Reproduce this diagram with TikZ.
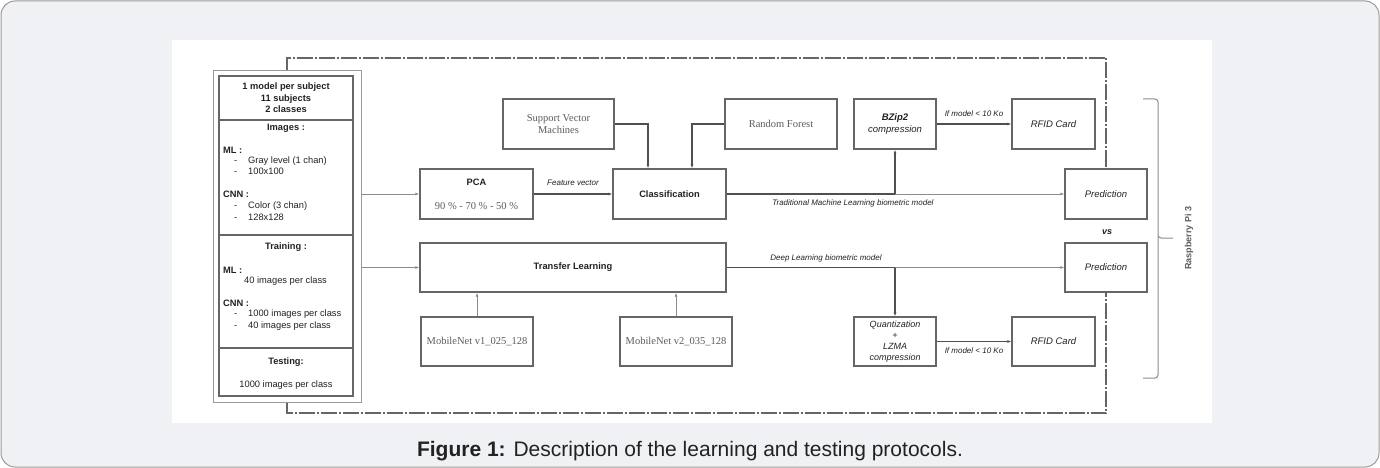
\documentclass[tikz,border=0pt]{standalone}
\usepackage{fontspec}
\setmainfont{Liberation Sans}
\newfontfamily\bookfont{Liberation Serif}
\usetikzlibrary{positioning, arrows.meta}

\definecolor{pagegray}{HTML}{F0F1F4}
\definecolor{edgegray}{HTML}{9A9A9A}
\definecolor{boxgray}{HTML}{666666}
\definecolor{wiregray}{HTML}{505050}
\definecolor{inkgray}{HTML}{222222}
\definecolor{softgray}{HTML}{5C5C5C}

\newcommand{\bul}[1]{\makebox[14pt][l]{-}#1}

\tikzset{
  blk/.style={draw=boxgray, line width=1.3pt, fill=white, minimum height=50pt, inner sep=1pt, align=center, text=inkgray, font=\fontsize{9.3}{11}\selectfont},
  bookblk/.style={blk, text=softgray, font=\bookfont\fontsize{10.5}{12.5}\selectfont},
  itblk/.style={blk, font=\itshape\fontsize{9.5}{11.5}\selectfont},
  spectxt/.style={inner sep=0pt, text=inkgray, font=\fontsize{9.3}{11.5}\selectfont},
  spechead/.style={spectxt, font=\bfseries\fontsize{9.3}{11.5}\selectfont},
  wire/.style={draw=wiregray, line width=1.5pt},
  thinwire/.style={draw=black!45, line width=0.9pt},
  lbl/.style={inner sep=1pt, text=inkgray, font=\itshape\fontsize{8}{9}\selectfont},
  dashframe/.style={draw=black!60, line width=1.6pt, dash pattern=on 16pt off 2pt on 2pt off 2pt},
  >={Latex[length=4pt, width=3pt]}
}

\begin{document}
\begin{tikzpicture}[x=1pt, y=-1pt]
  \useasboundingbox (0,0) rectangle (1380,468);
  % Page and figure area
  \draw[fill=pagegray, draw=edgegray, line width=1pt, rounded corners=14pt] (1,1) rectangle (1379,467);
  \fill[white] (172,40) rectangle (1212,423);

  % Left column: protocol
  \node[draw=black!40, line width=1pt, fill=white, minimum width=148pt, minimum height=331pt] (specout) at (287,236.5) {};
  \node[draw=boxgray, line width=1.3pt, minimum width=134pt, minimum height=320pt] (spec) at (286,236) {};
  \draw[boxgray, line width=1.3pt] (spec.west |- 0,120) -- (spec.east |- 0,120);
  \draw[boxgray, line width=1.3pt] (spec.west |- 0,235) -- (spec.east |- 0,235);
  \draw[boxgray, line width=1.3pt] (spec.west |- 0,348) -- (spec.east |- 0,348);

  \node[spechead, align=center] (head) at (286,98) {1 model per subject\\11 subjects\\2 classes};
  \node[spechead] (imgT) at (286,128) {Images :};
  \node[spechead, anchor=west] (imgML) at (223,150) {ML :};
  \node[spectxt, anchor=west] (imgM1) at (234,161) {\bul{Gray level (1 chan)}};
  \node[spectxt, anchor=west] (imgM2) at (234,171) {\bul{100x100}};
  \node[spechead, anchor=west] (imgCNN) at (223,194) {CNN :};
  \node[spectxt, anchor=west] (imgC1) at (234,206) {\bul{Color (3 chan)}};
  \node[spectxt, anchor=west] (imgC2) at (234,217) {\bul{128x128}};
  \node[spechead] (trnT) at (286,247) {Training :};
  \node[spechead, anchor=west] (trnML) at (223,270) {ML :};
  \node[spectxt, anchor=west] (trnM1) at (244,281) {40 images per class};
  \node[spechead, anchor=west] (trnCNN) at (223,303) {CNN :};
  \node[spectxt, anchor=west] (trnC1) at (234,314) {\bul{1000 images per class}};
  \node[spectxt, anchor=west] (trnC2) at (234,326) {\bul{40 images per class}};
  \node[spechead] (tstT) at (286,362) {Testing:};
  \node[spectxt] (tstA) at (286,385) {1000 images per class};

  % Blocks
  \node[blk, minimum width=113pt] (pca) at (476.5,194) {\textbf{PCA}\\[13pt]{\bookfont\color{softgray}\fontsize{10.5}{12}\selectfont 90 \% - 70 \% - 50 \%}};
  \node[blk, minimum width=113pt] (clf) at (669.5,194) {\textbf{Classification}};
  \node[bookblk, minimum width=111pt] (svm) at (558.5,124) {Support Vector\\Machines};
  \node[bookblk, minimum width=112pt] (rf) at (781,124) {Random Forest};
  \node[itblk, minimum width=82pt] (bzip) at (895,124) {\textbf{BZip2}\\compression};
  \node[itblk, minimum width=83pt] (rfidA) at (1053.5,124) {RFID Card};
  \node[itblk, minimum width=82pt] (predA) at (1106,194) {Prediction};
  \node[itblk, minimum width=82pt, minimum height=49pt] (predB) at (1106,267.5) {Prediction};
  \node[blk, minimum width=306pt, minimum height=49pt] (tl) at (573,267.5) {\textbf{Transfer Learning}};
  \node[bookblk, minimum width=112pt, minimum height=49pt] (mnA) at (477,341.5) {MobileNet v1\_025\_128};
  \node[bookblk, minimum width=112pt, minimum height=49pt] (mnB) at (676,341.5) {MobileNet v2\_035\_128};
  \node[itblk, minimum width=82pt, minimum height=49pt, font=\itshape\fontsize{9}{10.8}\selectfont] (quant) at (895,341.5) {Quantization\\+\\LZMA\\compression};
  \node[itblk, minimum width=83pt, minimum height=49pt] (rfidB) at (1053.5,341.5) {RFID Card};
  \node[text=inkgray, font=\bfseries\itshape\fontsize{9}{10}\selectfont] (vs) at (1107,232) {vs};

  % Dash-dot frame
  \draw[dashframe] (specout.north) -- (287,58) -| (predA.north);
  \draw[dashframe] (specout.south) -- (287,413) -| (predB.south);

  % Connections
  \draw[thinwire, ->] (pca.west -| specout.east) -- (pca.west);
  \draw[thinwire, ->] (tl.west -| specout.east) -- (tl.west);
  \draw[wire, ->] (pca.east) -- node[lbl, above=7pt] (fv) {Feature vector} (clf.west);
  \draw[wire, ->] (svm.east) -| ([xshift=-21.5pt]clf.north);
  \draw[wire, ->] (rf.west) -| ([xshift=22.5pt]clf.north);

  \coordinate (brA) at (bzip.south |- clf.east);
  \draw[wire] (clf.east) -- node[lbl, below=4pt, pos=0.75] (tml) {Traditional Machine Learning biometric model} (brA);
  \draw[wire, ->] (brA) -- (bzip.south);
  \draw[thinwire, ->] (brA) -- (predA.west);
  \draw[wire, ->] (bzip.east) -- node[lbl, above=6pt] (szA) {If model < 10 Ko} (rfidA.west);

  \coordinate (brB) at (quant.north |- tl.east);
  \draw[wire] (tl.east) -- node[lbl, above=4pt, pos=0.59] (dlm) {Deep Learning biometric model} (brB);
  \draw[wire, ->] (brB) -- (quant.north);
  \draw[thinwire, ->] (brB) -- (predB.west);
  \draw[wire, ->] (quant.east) -- node[lbl, below=4pt] (szB) {If model < 10 Ko} (rfidB.west);

  \draw[thinwire, ->] (mnA.north) -- (mnA.north |- tl.south);
  \draw[thinwire, ->] (mnB.north) -- (mnB.north |- tl.south);

  % Bracket for the device
  \draw[black!45, line width=1pt, rounded corners=3pt] (1143,99) -| (1158,238) -- (1173,238);
  \draw[black!45, line width=1pt, rounded corners=3pt] (1158,236) |- (1143,378);
  \node[rotate=90, text=softgray, font=\bfseries\fontsize{9}{10}\selectfont] (rpi) at (1189,238) {Raspberry Pi 3};

  % Caption
  \node[text=inkgray, font=\fontsize{21}{25}\selectfont] (cap) at (690,451) {\textbf{Figure 1:} Description of the learning and testing protocols.};
\end{tikzpicture}
\end{document}
